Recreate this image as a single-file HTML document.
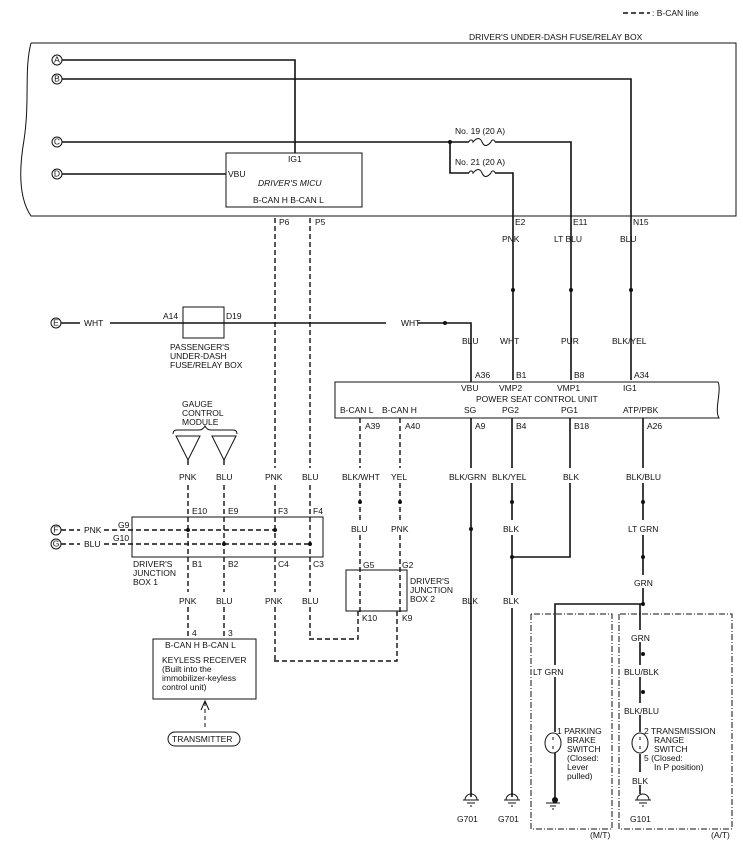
<!DOCTYPE html>
<html><head><meta charset="utf-8"><style>
body{margin:0;background:#fff}
svg{display:block}
text{font-family:"Liberation Sans",sans-serif;font-size:8.5px;fill:#111}
.l{stroke:#111;stroke-width:1.6;fill:none}
.d{stroke:#111;stroke-width:1.4;fill:none;stroke-dasharray:5,3}
.dd{stroke:#111;stroke-width:1;fill:none;stroke-dasharray:6,2,1,2}
.b{stroke:#111;stroke-width:1;fill:none}
</style></head><body>
<svg width="743" height="851" viewBox="0 0 743 851" xmlns="http://www.w3.org/2000/svg">
<!-- legend -->
<line x1="623" y1="13" x2="650" y2="13" class="d" stroke-dasharray="3,2"/>
<text x="652" y="16">: B-CAN line</text>
<!-- top box -->
<text x="469" y="40">DRIVER'S UNDER-DASH FUSE/RELAY BOX</text>
<path class="b" d="M31,43 H736 V216 H31 C20,200 18,175 24,140 C30,100 24,70 31,43" stroke-width="1.3"/>
<!-- circles A-D -->
<g class="b"><circle cx="57" cy="60" r="5"/><circle cx="57" cy="79" r="5"/><circle cx="57" cy="142" r="5"/><circle cx="57" cy="174" r="5"/><circle cx="56" cy="323" r="5"/><circle cx="56" cy="530" r="5"/><circle cx="56" cy="544" r="5"/></g>
<g style="font-size:7px" text-anchor="middle"><text x="57" y="62.5">A</text><text x="57" y="81.5">B</text><text x="57" y="144.5">C</text><text x="57" y="176.5">D</text><text x="56" y="325.5">E</text><text x="56" y="532.5">F</text><text x="56" y="546.5">G</text></g>
<path class="l" d="M62,60 H295 V153"/>
<path class="l" d="M62,79 H631 V380"/>
<path class="l" d="M62,142 H469 M495,142 H571 V380"/>
<path class="l" d="M450,142 V173 H469 M495,173 H513 V380"/>
<circle cx="450" cy="142" r="2" fill="#111"/>
<path class="b" d="M469,142 m0,0 a2,2 0 1,1 4,0 q6,-7 9,0 t9,0 a2,2 0 1,1 4,0"/>
<path class="b" d="M469,173 a2,2 0 1,1 4,0 q6,-7 9,0 t9,0 a2,2 0 1,1 4,0"/>
<text x="455" y="134">No. 19 (20 A)</text>
<text x="455" y="165">No. 21 (20 A)</text>
<path class="l" d="M62,174 H226"/>
<rect x="226" y="153" width="136" height="54" class="b"/>
<text x="288" y="162">IG1</text>
<text x="228" y="177">VBU</text>
<text x="258" y="186" font-style="italic">DRIVER'S MICU</text>
<text x="253" y="203">B-CAN H B-CAN L</text>
<text x="515" y="225">E2</text><text x="573" y="225">E11</text><text x="633" y="225">N15</text>
<text x="279" y="225">P6</text><text x="315" y="225">P5</text>
<text x="502" y="242">PNK</text><text x="554" y="242">LT BLU</text><text x="620" y="242">BLU</text>
<g fill="#111"><circle cx="513" cy="290" r="2"/><circle cx="571" cy="290" r="2"/><circle cx="631" cy="290" r="2"/></g>
<text x="500" y="344">WHT</text><text x="561" y="344">PUR</text><text x="612" y="344">BLK/YEL</text>
<!-- E row -->
<path class="l" d="M61,323 H80 M110,323 H386 M418,323 H471 V382"/>
<circle cx="445" cy="323" r="2" fill="#111"/>
<text x="84" y="326">WHT</text><text x="401" y="326">WHT</text>
<rect x="183" y="307" width="41" height="31" class="b"/>
<text x="163" y="319">A14</text><text x="226" y="319">D19</text>
<text x="170" y="350">PASSENGER'S</text><text x="170" y="359">UNDER-DASH</text><text x="170" y="368">FUSE/RELAY BOX</text>
<text x="462" y="344">BLU</text>
<!-- PSU -->
<path class="b" d="M335,382 H718 C722,390 714,410 719,418 H335 Z"/>
<text x="475" y="378">A36</text><text x="516" y="378">B1</text><text x="574" y="378">B8</text><text x="634" y="378">A34</text>
<text x="461" y="391">VBU</text><text x="499" y="391">VMP2</text><text x="557" y="391">VMP1</text><text x="623" y="391">IG1</text>
<text x="476" y="402">POWER SEAT CONTROL UNIT</text>
<text x="340" y="413">B-CAN L</text><text x="382" y="413">B-CAN H</text><text x="464" y="413">SG</text><text x="502" y="413">PG2</text><text x="561" y="413">PG1</text><text x="623" y="413">ATP/PBK</text>
<text x="365" y="429">A39</text><text x="405" y="429">A40</text><text x="475" y="429">A9</text><text x="516" y="429">B4</text><text x="574" y="429">B18</text><text x="647" y="429">A26</text>
<!-- PSU down lines -->
<path class="l" d="M471,418 V468 M471,483 V797"/>
<path class="l" d="M512,418 V468 M512,483 V520 M512,535 V595 M512,608 V797"/>
<path class="l" d="M570,418 V468 M570,483 V557 H512"/>
<path class="l" d="M643,418 V468 M643,483 V520 M643,535 V575 M643,588 V604"/>
<path class="d" d="M360,418 V468 M360,483 V520 M360,535 V612 M400,418 V468 M400,483 V520 M400,535 V612"/>
<text x="449" y="480">BLK/GRN</text><text x="492" y="480">BLK/YEL</text><text x="563" y="480">BLK</text><text x="626" y="480">BLK/BLU</text>
<text x="342" y="480">BLK/WHT</text><text x="391" y="480">YEL</text>
<g fill="#111"><circle cx="360" cy="502" r="2"/><circle cx="400" cy="502" r="2"/><circle cx="512" cy="502" r="2"/><circle cx="643" cy="502" r="2"/><circle cx="471" cy="529" r="2"/><circle cx="512" cy="557" r="2"/><circle cx="643" cy="557" r="2"/><circle cx="643" cy="604" r="2"/><circle cx="643" cy="654" r="2"/><circle cx="643" cy="692" r="2"/></g>
<text x="351" y="532">BLU</text><text x="391" y="532">PNK</text><text x="503" y="532">BLK</text><text x="628" y="532">LT GRN</text>
<text x="634" y="586">GRN</text>
<text x="462" y="604">BLK</text><text x="503" y="604">BLK</text>
<!-- JB2 -->
<rect x="346" y="570" width="61" height="41" class="b"/>
<text x="363" y="568">G5</text><text x="402" y="568">G2</text>
<text x="410" y="584">DRIVER'S</text><text x="410" y="593">JUNCTION</text><text x="410" y="602">BOX 2</text>
<text x="362" y="621">K10</text><text x="402" y="621">K9</text>
<path class="d" d="M358,611 V639 H308 M397,611 V661 H272"/>
<!-- gauge -->
<text x="182" y="407">GAUGE</text><text x="182" y="416">CONTROL</text><text x="182" y="425">MODULE</text>
<path class="b" d="M173,434 q0,-4 4,-4 h22 q4,0 6,-4 q2,4 6,4 h22 q4,0 4,4"/>
<path class="b" d="M176,436 L200,436 L188,460 Z M212,436 L236,436 L224,460 Z"/>
<path class="d" d="M188,460 V468 M224,460 V468"/>
<text x="179" y="480">PNK</text><text x="216" y="480">BLU</text><text x="265" y="480">PNK</text><text x="302" y="480">BLU</text>
<path class="d" d="M188,485 V592 M188,607 V639 M224,485 V592 M224,607 V639 M275,218 V468 M275,485 V592 M275,607 V661 M310,218 V468 M310,485 V592 M310,607 V639"/>
<!-- JB1 -->
<rect x="132" y="517" width="191" height="40" class="b"/>
<text x="192" y="514">E10</text><text x="228" y="514">E9</text><text x="278" y="514">F3</text><text x="313" y="514">F4</text>
<path class="d" d="M61,530 H80 M104,530 H275 M61,544 H80 M104,544 H310"/>
<text x="84" y="533">PNK</text><text x="84" y="547">BLU</text>
<text x="118" y="528">G9</text><text x="113" y="541">G10</text>
<g fill="#111"><circle cx="188" cy="530" r="2"/><circle cx="275" cy="530" r="2"/><circle cx="224" cy="544" r="2"/><circle cx="310" cy="544" r="2"/></g>
<text x="192" y="567">B1</text><text x="228" y="567">B2</text><text x="278" y="567">C4</text><text x="313" y="567">C3</text>
<text x="133" y="567">DRIVER'S</text><text x="133" y="576">JUNCTION</text><text x="133" y="585">BOX 1</text>
<text x="179" y="604">PNK</text><text x="216" y="604">BLU</text><text x="265" y="604">PNK</text><text x="302" y="604">BLU</text>
<text x="192" y="636">4</text><text x="228" y="636">3</text>
<!-- keyless -->
<rect x="153" y="639" width="103" height="60" class="b"/>
<text x="165" y="648">B-CAN H B-CAN L</text>
<text x="162" y="663">KEYLESS RECEIVER</text>
<text x="162" y="672">(Built into the</text>
<text x="162" y="681">immobilizer-keyless</text>
<text x="162" y="690">control unit)</text>
<path class="b" stroke-dasharray="4,3" d="M205,727 V702"/>
<path class="b" d="M201,710 L205,701 L209,710"/>
<rect x="168" y="732" width="72" height="14" rx="7" class="b"/>
<text x="172" y="742">TRANSMITTER</text>
<!-- grounds -->
<g class="b">
<path d="M465,800 a6,6 0 0,1 12,0 M463,800 H479 M467,803 H475 M470,806 H472"/>
<path d="M506,800 a6,6 0 0,1 12,0 M504,800 H520 M508,803 H516 M511,806 H513"/>
<path d="M637,800 a6,6 0 0,1 12,0 M635,800 H651 M639,803 H647 M642,806 H644"/>
<path d="M546,803 H560 M550,806 H556 M552,809 H554"/>
</g>
<text x="457" y="822">G701</text><text x="498" y="822">G701</text><text x="630" y="822">G101</text>
<!-- M/T A/T -->
<path class="dd" d="M531,614 V829 H612 V614 H531"/>
<path class="dd" d="M619,614 V829 H732 V614 H619"/>
<text x="590" y="838">(M/T)</text><text x="711" y="838">(A/T)</text>
<path class="l" d="M643,604 H555 V665 M555,677 V732 M555,753 V800"/>
<circle cx="555" cy="800" r="3" fill="#111"/>
<text x="533" y="675">LT GRN</text>
<ellipse cx="553" cy="743" rx="8" ry="10" class="b"/>
<path class="b" d="M553,737 V740 M553,746 V749"/>
<text x="557" y="734">1 PARKING</text><text x="567" y="743">BRAKE</text><text x="567" y="752">SWITCH</text><text x="567" y="761">(Closed:</text><text x="567" y="770">Lever</text><text x="567" y="779">pulled)</text>
<path class="l" d="M640,604 V630 M640,642 V665 M640,677 V703 M640,715 V732 M640,754 V772 M640,785 V794"/>
<text x="631" y="641">GRN</text><text x="624" y="675">BLU/BLK</text><text x="624" y="714">BLK/BLU</text>
<ellipse cx="640" cy="743" rx="8" ry="10" class="b"/>
<path class="b" d="M640,737 V740 M640,746 V749"/>
<text x="644" y="734">2 TRANSMISSION</text><text x="654" y="743">RANGE</text><text x="654" y="752">SWITCH</text><text x="644" y="761">5 (Closed:</text><text x="654" y="770">In P position)</text>
<text x="632" y="784">BLK</text>
</svg>
</body></html>
